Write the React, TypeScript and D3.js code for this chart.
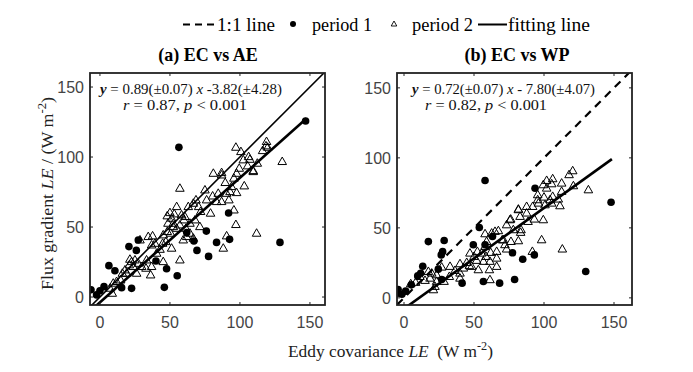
import React from "react";
import * as d3 from "d3";

// period 1 (filled circles) and period 2 (open triangles), [EC, other] in W m-2
const p1AE: [number, number][] = [
  [56.4, 106.9], [146.9, 125.7], [128.6, 39], [91.9, 60], [92.6, 41.2], [76, 47.1],
  [83.3, 39], [67.1, 40], [69.3, 33.3], [77.6, 29], [27.4, 40.7], [20.7, 36],
  [26, 33.3], [6.4, 22.4], [10.7, 18.8], [40, 25.7], [47.6, 20.2], [55.2, 15.2],
  [46, 6.9], [22.6, 6.2], [15.5, 6.7], [-6.4, 5.2], [2.9, 7.4], [0, 4.5],
  [-2.4, 1.5], [62, 46],
];

const p2AE: [number, number][] = [
  [97.1, 106.9], [100.7, 103.8], [119, 111], [119.8, 106.9], [116.2, 104.5], [106.2, 100.2],
  [102.4, 97.9], [107.1, 98.3], [112.4, 95.5], [130.2, 96.7], [109.5, 90.2], [105.5, 93.6],
  [99.5, 91.9], [97.6, 88.3], [86.9, 87.1], [81, 88.3], [95.7, 84.8], [89.5, 81.7],
  [94, 78.8], [103.1, 79.3], [92.9, 75.2], [90.5, 74], [97.6, 74.5], [84.5, 74],
  [80.5, 72.1], [86.9, 68.1], [92.1, 69.3], [75, 76.4], [76.2, 69.3], [79, 59.8],
  [83.3, 68.1], [68.6, 69.3], [66.7, 66.9], [70.5, 64.5], [71.9, 61], [63.1, 64.5],
  [57.1, 77.6], [54.8, 64.5], [58.3, 58.6], [53.1, 59.3], [50, 60.2], [51.2, 56.2],
  [48.1, 57.9], [48.6, 52.6], [52.4, 52.6], [57.1, 51.4], [61.4, 49], [54.8, 49],
  [48.1, 46.7], [50.5, 45.5], [45.2, 44.3], [64.3, 45.5], [66.7, 41.9], [71.4, 50.2],
  [67.9, 55], [60.7, 57.4], [60, 55], [64.3, 52.6], [97.1, 51.7], [111.9, 45.5],
  [90.5, 43.6], [88.1, 34.8], [37.6, 43.6], [34.5, 43.1], [28.6, 40.7], [39.3, 38.3],
  [36.9, 37.1], [44.8, 38.3], [51.2, 34.8], [47.1, 39.5], [42.9, 34], [45.2, 25.2],
  [57.1, 26.4], [36.2, 15.7], [32.9, 20.5], [27.4, 24], [29.8, 21.7], [26.2, 16.9],
  [23.8, 21.7], [21.4, 26.9], [21, 22.9], [17.9, 19.3], [19, 16.9], [14.8, 12.1],
  [11.9, 11], [9.5, 9.8], [7.1, 6.2], [8.8, 2.6], [16, 16.9], [25, 26.4],
  [22.6, 25.2], [40.5, 31.2], [36.9, 21.7], [33.3, 26.4], [52.4, 50.2], [61.9, 43.1],
  [59.5, 40.7], [95.7, 62.1], [86.9, 88.8], [109.5, 89.5], [118.6, 107.9],
];

const p1WP: [number, number][] = [
  [57.9, 83.8], [147.9, 68.3], [129.8, 18.8], [93.6, 78.3], [93.1, 30.7], [84.8, 27.6],
  [77.5, 32.2], [79, 13.1], [68.3, 10.5], [56.7, 11.7], [41.5, 10.5], [53.8, 50.3],
  [49.5, 37.9], [63.2, 43.8], [57.9, 37.9], [17.4, 40.2], [28.7, 41], [27.6, 33],
  [26.6, 30.7], [24.5, 20.5], [26.9, 13.1], [13.4, 22.6], [11.9, 17.6], [9.8, 15.7],
  [5.2, 9.3], [1.2, 4.8], [-4.2, 5.9], [-4.5, 3.3], [-1.5, 2.6],
];

const p2WP: [number, number][] = [
  [120.5, 90.7], [117.9, 87.9], [106.2, 85], [101.9, 83.8], [99.5, 80.7], [105.5, 81.4],
  [101.9, 78.3], [112.6, 81.9], [121, 80], [131.7, 77.1], [112.6, 76], [95.5, 73.6],
  [95.5, 70], [100, 71.9], [104.3, 70], [106.2, 72.4], [110.2, 70.5], [105.5, 67.6],
  [100.7, 66.4], [96, 67.6], [91.9, 65.2], [87.6, 65.2], [81.7, 63.3], [87.6, 60.5],
  [111.4, 65.7], [99.5, 55.7], [82.9, 58.1], [76.2, 56.2], [73.3, 52.1], [67.4, 47.9],
  [62.6, 46.2], [57.9, 45.7], [78.1, 48.6], [83.3, 46.7], [88.6, 54.5], [93.1, 56.2],
  [76.4, 40.2], [72.1, 37.9], [71, 41.4], [73.3, 34.8], [66.2, 33.1], [61.9, 32.4],
  [57.9, 36.7], [55.5, 31.9], [52.4, 33.1], [50, 29.5], [51.9, 26.7], [47.1, 31.9],
  [44.8, 25.2], [48.3, 22.4], [53.1, 20], [61, 20], [56.7, 26], [58.6, 29.5],
  [61.4, 26], [40, 24.3], [32.9, 22.4], [26.9, 21.9], [32.4, 15.2], [28.6, 11.7],
  [23.3, 11.7], [22.1, 8.1], [21, 5.7], [19.8, 17.6], [18.6, 14], [15, 12.4],
  [11.4, 15.2], [8.3, 11], [4.8, 10], [40, 17.6], [42.4, 21.2], [46.7, 22.9],
  [66.2, 22.4], [66.2, 28.3], [59, 40.2], [70.2, 41.4], [98.3, 41.4], [91.7, 33.1],
  [113.1, 34.8], [40, 14], [36.4, 19.5], [23.3, 16.4], [17.4, 18.8], [61.4, 12.9],
  [81.7, 40.7], [81.7, 62.9], [75.7, 55.7], [83.6, 48.6], [65, 47.4],
];

const ticks = [0, 50, 100, 150];

const fitAE = { slope: 0.89, icpt: -3.82, x1: 147.5 };
const fitWP = { slope: 0.72, icpt: -7.8, x1: 148.5 };

const serif = "'Liberation Serif', 'Times New Roman', serif";
const sans = "'Liberation Sans', Arial, sans-serif";
const tri = "M0,-4.6L4.3,2.9L-4.3,2.9Z";

type PanelProps = {
  id: string;
  left: number;
  top: number;
  xMin: number;
  yMin: number;
  p1: [number, number][];
  p2: [number, number][];
  fit: { slope: number; icpt: number; x1: number };
  dashed: boolean;
  eq: string[];
  stats: string[];
  eqX: number;
  eqW: number;
  stX: number;
  stW: number;
};

const Panel = (p: PanelProps) => {
  const w = 235;
  const h = 232;
  const x = d3.scaleLinear().domain([p.xMin, p.xMin + w / 1.4]).range([p.left, p.left + w]);
  const y = d3.scaleLinear().domain([p.yMin, p.yMin + h / 1.4]).range([p.top + h, p.top]);
  const line = d3.line<[number, number]>().x((d) => x(d[0])).y((d) => y(d[1]));
  const x0 = p.xMin;
  const x1 = x.domain()[1];
  const one = line([[x0, x0], [x1, x1]]) || "";
  const fit =
    line([
      [x0, p.fit.slope * x0 + p.fit.icpt],
      [p.fit.x1, p.fit.slope * p.fit.x1 + p.fit.icpt],
    ]) || "";
  const bottom = p.top + h;
  const right = p.left + w;
  return (
    <g>
      <defs>
        <clipPath id={p.id}>
          <rect x={p.left} y={p.top} width={w} height={h} />
        </clipPath>
      </defs>
      <g clipPath={`url(#${p.id})`}>
        {p.p2.map((d, i) => (
          <path key={"t" + i} d={tri} transform={`translate(${x(d[0])},${y(d[1])})`}
            fill="none" stroke="#000" strokeWidth={1} />
        ))}
        {p.p1.map((d, i) => (
          <circle key={"c" + i} cx={x(d[0])} cy={y(d[1])} r={3.8} fill="#000" />
        ))}
        <path d={one} stroke="#000" fill="none"
          strokeWidth={p.dashed ? 2.2 : 1.6}
          strokeDasharray={p.dashed ? "8,6" : undefined} />
        <path d={fit} stroke="#000" fill="none" strokeWidth={2.6} />
      </g>
      <rect x={p.left} y={p.top} width={w} height={h} fill="none" stroke="#222" strokeWidth={1.8} />
      {ticks.map((t) => (
        <g key={t} stroke="#222" strokeWidth={1}>
          <line x1={x(t)} x2={x(t)} y1={bottom} y2={bottom - 3} />
          <line x1={x(t)} x2={x(t)} y1={p.top} y2={p.top + 3} />
          <line x1={p.left} x2={p.left + 3} y1={y(t)} y2={y(t)} />
          <line x1={right} x2={right - 3} y1={y(t)} y2={y(t)} />
        </g>
      ))}
      {ticks.map((t) => (
        <text key={"xl" + t} x={x(t)} y={bottom + 23} textAnchor="middle"
          fontFamily={sans} fontSize={16} fill="#444">{t}</text>
      ))}
      {ticks.map((t) => (
        <text key={"yl" + t} x={p.left - 6} y={y(t) + 6} textAnchor="end"
          fontFamily={sans} fontSize={16} fill="#444">{t}</text>
      ))}
      <text x={p.eqX} y={p.top + 21} fontFamily={serif} fontSize={14.5} fill="#111"
        textLength={p.eqW} lengthAdjust="spacingAndGlyphs">
        <tspan fontStyle="italic" fontWeight="bold">y</tspan>
        <tspan>{p.eq[0]}</tspan>
        <tspan fontStyle="italic">x</tspan>
        <tspan>{p.eq[1]}</tspan>
      </text>
      <text x={p.stX} y={p.top + 37} fontFamily={serif} fontSize={14.5} fill="#111"
        textLength={p.stW} lengthAdjust="spacingAndGlyphs">
        <tspan fontStyle="italic">r</tspan>
        <tspan>{p.stats[0]}</tspan>
        <tspan fontStyle="italic">p</tspan>
        <tspan>{p.stats[1]}</tspan>
      </text>
    </g>
  );
};

export default function App() {
  return (
    <svg width={693} height={372} style={{ display: "block", position: "absolute", left: 0, top: 0 }}>
      <rect width={693} height={372} fill="#fff" />
      {/* legend */}
      <g fontFamily={serif} fontSize={18} fill="#000">
        <line x1={183} x2={215} y1={24.5} y2={24.5} stroke="#000" strokeWidth={1.8} strokeDasharray="7,5" />
        <text x={217} y={31} textLength={58} lengthAdjust="spacingAndGlyphs">1:1 line</text>
        <circle cx={293} cy={24} r={3} fill="#000" />
        <text x={312} y={31} textLength={60} lengthAdjust="spacingAndGlyphs">period 1</text>
        <path d="M0,-3L2.8,2L-2.8,2Z" transform="translate(394,24)" fill="none" stroke="#000" strokeWidth={0.9} />
        <text x={412} y={31} textLength={61} lengthAdjust="spacingAndGlyphs">period 2</text>
        <line x1={478} x2={507} y1={24.5} y2={24.5} stroke="#000" strokeWidth={2} />
        <text x={508} y={31} textLength={82} lengthAdjust="spacingAndGlyphs">fitting line</text>
      </g>
      <g fontFamily={serif} fontSize={18} fontWeight="bold" fill="#000">
        <text x={208} y={61} textAnchor="middle">(a) EC vs AE</text>
        <text x={517} y={61} textAnchor="middle">(b) EC vs WP</text>
      </g>
      <Panel id="clipA" left={90} top={73} xMin={-7.1} yMin={-5.7} p1={p1AE} p2={p2AE}
        fit={fitAE} dashed={false}
        eq={[" = 0.89(\u00b10.07) ", " -3.82(\u00b14.28)"]}
        stats={[" = 0.87,  ", " < 0.001"]}
        eqX={100} eqW={182} stX={123} stW={124} />
      <Panel id="clipB" left={397} top={73} xMin={-5} yMin={-5.1} p1={p1WP} p2={p2WP}
        fit={fitWP} dashed={true}
        eq={[" = 0.72(\u00b10.07) ", " - 7.80(\u00b14.07)"]}
        stats={[" = 0.82,  ", " < 0.001"]}
        eqX={412} eqW={183} stX={425} stW={122} />
      {/* axis titles */}
      <text x={288} y={357} fontFamily={serif} fontSize={17} fill="#222"
        textLength={205} lengthAdjust="spacingAndGlyphs">
        Eddy covariance <tspan fontStyle="italic">LE</tspan>{"\u00a0\u00a0"}(W m<tspan dy={-7} fontSize={12}>-2</tspan><tspan dy={7}>)</tspan>
      </text>
      <text transform="translate(53,290) rotate(-90)" fontFamily={serif} fontSize={17} fill="#222"
        textLength={193} lengthAdjust="spacingAndGlyphs">
        Flux gradient <tspan fontStyle="italic">LE</tspan> / (W m<tspan dy={-7} fontSize={12}>-2</tspan><tspan dy={7}>)</tspan>
      </text>
    </svg>
  );
}
